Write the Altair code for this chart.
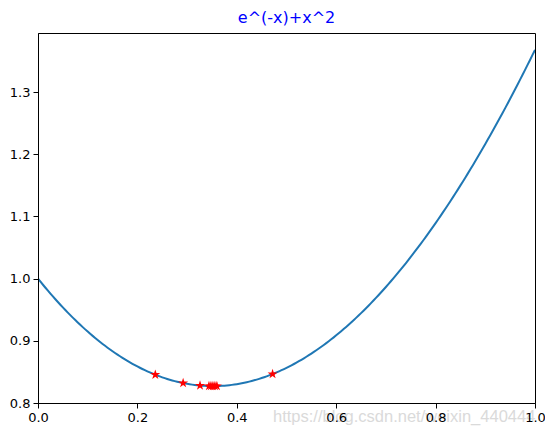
import altair as alt
import numpy as np
import pandas as pd

# Curve: f(x) = e^(-x) + x^2 on [0, 1] (the function named in the title)
curve_x = np.linspace(0, 1, 201)
curve_y = np.exp(-curve_x) + curve_x ** 2

# Search points (red stars)
star_x = [0.236, 0.292, 0.326, 0.344, 0.348, 0.352, 0.356, 0.360, 0.472]
star_y = [float(np.exp(-v) + v ** 2) for v in star_x]

y_ticks = [0.8, 0.9, 1.0, 1.1, 1.2, 1.3]
x_ticks = [0.0, 0.2, 0.4, 0.6, 0.8, 1.0]

watermark = ["https://blog.csdn.net/weixin_440444"]

curve = pd.DataFrame({"x": curve_x, "y": curve_y})
stars = pd.DataFrame({"x": star_x, "y": star_y})
wm = pd.DataFrame({"t": watermark})

STAR = ("M0,-1L0.2245,-0.309L0.9511,-0.309L0.3633,0.118L0.5878,0.809L0,0.382"
        "L-0.5878,0.809L-0.3633,0.118L-0.9511,-0.309L-0.2245,-0.309Z")

font = "DejaVu Sans"
xs = alt.Scale(domain=[0, 1], nice=False, zero=False)
ys = alt.Scale(domain=[0.8, 1.395], nice=False, zero=False)

xaxis = alt.Axis(orient="bottom", values=x_ticks, format=".1f", grid=False, tickSize=5,
                 tickColor="black", domainColor="black", labelColor="black", labelFont=font,
                 labelFontSize=13, labelPadding=3, title=None, labelFlush=False, zindex=1)
yaxis = alt.Axis(orient="left", values=y_ticks, format=".1f", grid=False, tickSize=5,
                 tickColor="black", domainColor="black", labelColor="black", labelFont=font,
                 labelFontSize=13, labelPadding=3, title=None, labelFlush=False, zindex=1)

line = alt.Chart(curve).mark_line(color="#1f77b4", strokeWidth=2, clip=True).encode(
    x=alt.X("x:Q", scale=xs, axis=xaxis),
    y=alt.Y("y:Q", scale=ys, axis=yaxis),
)

pts = alt.Chart(stars).mark_point(shape=STAR, filled=True, color="red", size=110, opacity=1).encode(
    x=alt.X("x:Q", scale=xs, axis=xaxis),
    y=alt.Y("y:Q", scale=ys, axis=yaxis),
)

wm_text = alt.Chart(wm).mark_text(
    font="Liberation Sans", fontSize=16.5, color="#dadada", align="left", baseline="alphabetic"
).encode(x=alt.value(235), y=alt.value(389), text="t:N")

chart = (wm_text + line + pts).properties(
    width=497,
    height=370,
    title=alt.TitleParams("e^(-x)+x^2", color="blue", font=font, fontSize=16,
                          fontWeight="normal", anchor="middle", offset=7),
    autosize=alt.AutoSizeParams(type="none"),
    padding={"left": 30, "top": 25, "right": 10, "bottom": 25},
).configure_view(stroke="black", strokeWidth=1)

chart.save("out.html", embed_options={"renderer": "svg", "actions": False})
